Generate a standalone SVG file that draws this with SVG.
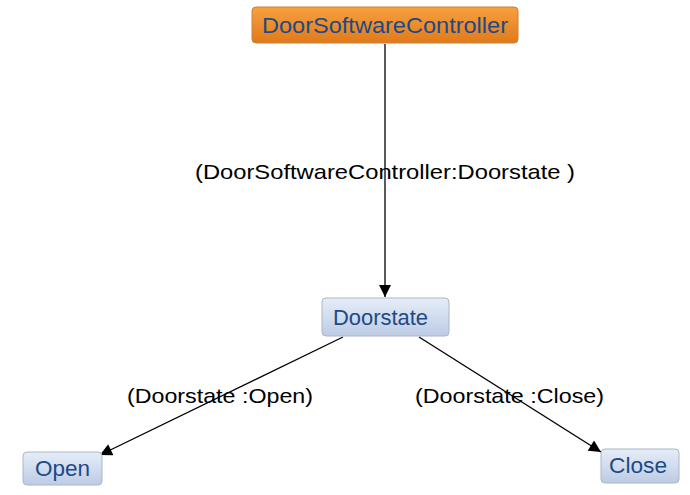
<svg xmlns="http://www.w3.org/2000/svg" width="690" height="495" viewBox="0 0 690 495">
<defs>
<linearGradient id="gOrange" x1="0" y1="0" x2="0" y2="1">
<stop offset="0" stop-color="#f7a040"/>
<stop offset="1" stop-color="#e07a1a"/>
</linearGradient>
<linearGradient id="gBlue" x1="0" y1="0" x2="0" y2="1">
<stop offset="0" stop-color="#e6edf8"/>
<stop offset="1" stop-color="#bccbe4"/>
</linearGradient>
<marker id="arr" viewBox="0 0 10 10" refX="10" refY="5" markerWidth="13" markerHeight="12" markerUnits="userSpaceOnUse" orient="auto">
<path d="M0,0 L10,5 L0,10 z" fill="#000"/>
</marker>
<style>
.lbl{font-family:"Liberation Sans",Arial,sans-serif;font-size:21px;fill:#000}
.nt{font-family:"Liberation Sans",Arial,sans-serif;font-size:22px;fill:#1d4a86}
.blue{fill:url(#gBlue);stroke:#a9b6c8;stroke-width:1}
.orange{fill:url(#gOrange);stroke:#c9803a;stroke-width:1}
.edge{stroke:#000;stroke-width:1.3;fill:none;marker-end:url(#arr)}
</style>
</defs>
<g id="connectors">
<line class="edge" x1="385" y1="44" x2="385" y2="297"/>
<line class="edge" x1="343" y1="337" x2="100" y2="455"/>
<line class="edge" x1="419" y1="337" x2="601" y2="452"/>
<text class="lbl" x="195" y="179" textLength="380" lengthAdjust="spacingAndGlyphs">(DoorSoftwareController:Doorstate )</text>
<text class="lbl" x="127" y="403" textLength="186" lengthAdjust="spacingAndGlyphs">(Doorstate :Open)</text>
<text class="lbl" x="415" y="403" textLength="189" lengthAdjust="spacingAndGlyphs">(Doorstate :Close)</text>
</g>
<g id="DoorSoftwareController">
<rect class="orange" x="252" y="7" width="266" height="36" rx="4"/>
<text class="nt" x="262" y="33" textLength="246" lengthAdjust="spacingAndGlyphs">DoorSoftwareController</text>
</g>
<g id="Doorstate">
<rect class="blue" x="322" y="298" width="127" height="38" rx="4"/>
<text class="nt" x="333" y="325" textLength="95" lengthAdjust="spacingAndGlyphs">Doorstate</text>
</g>
<g id="Open">
<rect class="blue" x="23" y="452" width="79" height="33" rx="4"/>
<text class="nt" x="35" y="476" textLength="55" lengthAdjust="spacingAndGlyphs">Open</text>
</g>
<g id="Close">
<rect class="blue" x="601" y="449" width="78" height="34" rx="4"/>
<text class="nt" x="609" y="473" textLength="58" lengthAdjust="spacingAndGlyphs">Close</text>
</g>
</svg>
